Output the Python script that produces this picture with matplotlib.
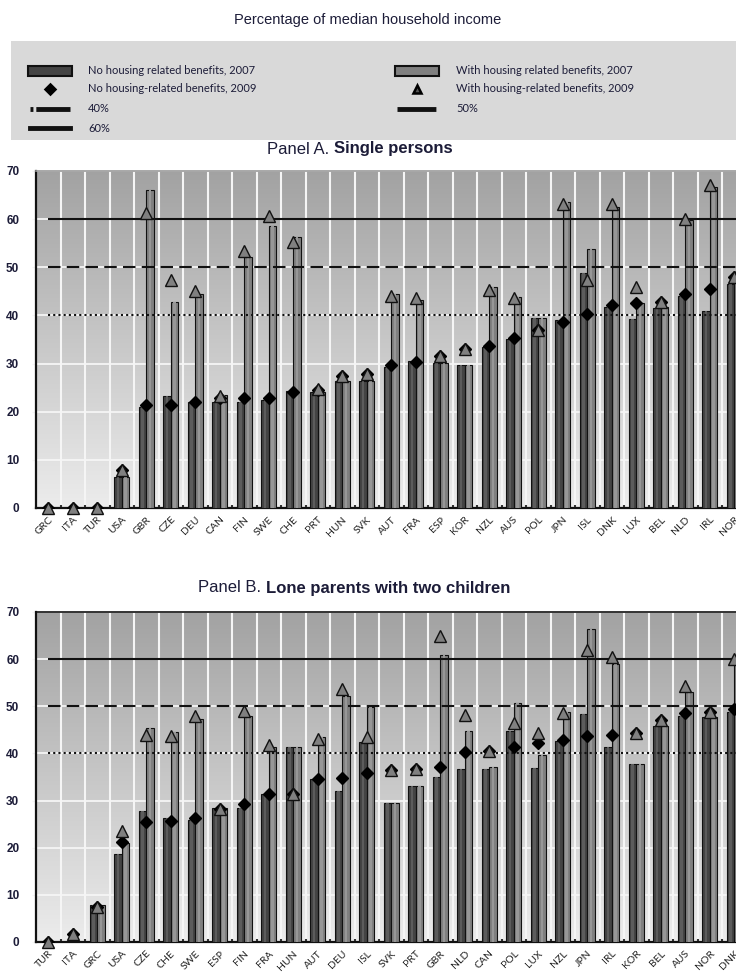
import numpy as np
import matplotlib
matplotlib.use('Agg')
import matplotlib.pyplot as plt
from matplotlib.colors import LinearSegmentedColormap
from matplotlib.patches import Rectangle
from matplotlib.lines import Line2D

# Panel A. Single persons
countries_a = ['GRC', 'ITA', 'TUR', 'USA', 'GBR', 'CZE', 'DEU', 'CAN', 'FIN', 'SWE',
               'CHE', 'PRT', 'HUN', 'SVK', 'AUT', 'FRA', 'ESP', 'KOR', 'NZL', 'AUS',
               'POL', 'JPN', 'ISL', 'DNK', 'LUX', 'BEL', 'NLD', 'IRL', 'NOR']
no_2007_a = [0, 0, 0, 6.4, 21.0, 23.3, 22.0, 22.0, 22.0, 22.4,
             24.4, 24.0, 26.4, 26.4, 29.3, 30.5, 30.1, 29.6, 33.4, 35.2,
             39.5, 39.0, 48.8, 41.8, 39.3, 41.6, 44.0, 40.9, 46.6]
with_2007_a = [0, 0, 0, 6.4, 66.0, 42.7, 44.5, 23.4, 52.1, 58.5,
               56.2, 24.0, 26.4, 26.4, 44.4, 43.3, 30.1, 29.6, 45.9, 43.8,
               39.5, 63.6, 53.9, 62.5, 42.6, 41.8, 59.8, 66.7, 47.5]
no_2009_a = [0, 0, 0, 7.8, 21.3, 21.3, 22.0, 22.8, 22.9, 22.9,
             24.0, 24.6, 27.4, 27.8, 29.8, 30.3, 31.5, 33.1, 33.7, 35.4,
             36.9, 38.6, 40.4, 42.1, 42.6, 42.8, 44.4, 45.4, 48.0]
with_2009_a = [0, 0, 0, 7.8, 61.3, 47.3, 45.1, 23.2, 53.3, 60.6,
               55.3, 24.8, 27.4, 27.8, 44.0, 43.7, 31.5, 33.1, 45.2, 43.7,
               36.9, 63.1, 47.4, 63.2, 45.9, 42.8, 60.1, 67.0, 48.0]

# Panel B. Lone parents with two children
countries_b = ['TUR', 'ITA', 'GRC', 'USA', 'CZE', 'CHE', 'SWE', 'ESP', 'FIN', 'FRA',
               'HUN', 'AUT', 'DEU', 'ISL', 'SVK', 'PRT', 'GBR', 'NLD', 'CAN', 'POL',
               'LUX', 'NZL', 'JPN', 'IRL', 'KOR', 'BEL', 'AUS', 'NOR', 'DNK']
no_2007_b = [0, 0, 7.9, 18.7, 27.7, 26.3, 25.9, 28.4, 28.4, 31.5,
             41.3, 34.5, 32.0, 42.5, 29.4, 33.1, 34.9, 36.8, 36.6, 44.8,
             37.0, 42.7, 48.3, 41.4, 37.8, 45.8, 47.9, 47.8, 48.8]
with_2007_b = [0, 0, 7.9, 21.0, 45.5, 44.6, 47.4, 28.4, 47.9, 41.4,
               41.3, 43.5, 52.2, 49.9, 29.4, 33.1, 60.8, 44.8, 37.2, 50.6,
               39.7, 48.8, 66.5, 58.9, 37.8, 45.8, 53.1, 47.8, 59.5]
no_2009_b = [0, 1.6, 7.5, 21.3, 25.5, 25.7, 26.3, 28.2, 29.2, 31.4,
             31.5, 34.5, 34.7, 35.8, 36.5, 36.8, 37.2, 40.2, 40.6, 41.4,
             42.3, 42.8, 43.7, 43.9, 44.4, 47.1, 48.6, 48.8, 49.5]
with_2009_b = [0, 1.6, 7.5, 23.6, 43.9, 43.7, 47.9, 28.2, 49.0, 41.8,
               31.5, 43.0, 53.6, 43.5, 36.5, 36.8, 64.9, 48.1, 40.6, 46.5,
               44.4, 48.5, 61.9, 60.5, 44.4, 47.1, 54.3, 48.8, 60.1]

thresholds = [40, 50, 60]
threshold_styles = {40: (0, (1, 1.5)), 50: (0, (6, 3)), 60: '-'}

DARK = '#444444'
DARK_HI = '#5c5c5c'
LIGHT = '#808080'
LIGHT_HI = '#979797'
TXT = '#1c1c38'

plt.rcParams['font.family'] = ['Liberation Sans', 'DejaVu Sans']

fig = plt.figure(figsize=(7.36, 9.75), dpi=100)
W, H = 736.0, 975.0


def fx(px):
    return px / W


def fy(py):
    return 1 - py / H


def draw_panel(ax, countries, no07, with07, no09, with09, top_color):
    n = len(countries)
    x = np.arange(n)
    w = 0.3
    grad = np.linspace(0, 1, 256).reshape(-1, 1)
    cmap = LinearSegmentedColormap.from_list('bg', ['#a2a2a2', '#ececec'])
    ax.imshow(grad, cmap=cmap, aspect='auto', extent=[0, 1, 0, 1],
              transform=ax.transAxes, zorder=0, origin='upper')
    ax.set_xlim(-0.5, n - 0.5)
    ax.set_ylim(0, 70)
    for b in x[:-1] + 0.5:
        ax.axvline(b, color='#f5f5f5', lw=1.5, zorder=1)
    for yv in range(10, 71, 10):
        ax.axhline(yv, color='#f5f5f5', lw=1.3, zorder=1)

    # 2007 bars, with a lighter middle stripe for the shaded look
    ax.bar(x - w / 2, no07, w, color=DARK, edgecolor='#111111', lw=0.8, zorder=3)
    ax.bar(x - w / 2, no07, w * 0.35, color=DARK_HI, lw=0, zorder=3.1)
    ax.bar(x + w / 2, with07, w, color=LIGHT, edgecolor='#111111', lw=0.8, zorder=3)
    ax.bar(x + w / 2, with07, w * 0.35, color=LIGHT_HI, lw=0, zorder=3.1)

    for t in thresholds:
        ax.hlines(t, 0, n - 0.5, colors='#111111', lw=1.5,
                  linestyles=threshold_styles[t], zorder=4)

    ax.plot(x, no09, 'D', color='black', markersize=6, zorder=5)
    ax.plot(x, with09, '^', color='#808080', markeredgecolor='#111111',
            markeredgewidth=1.0, markersize=9, zorder=6, clip_on=False)

    ax.set_yticks(range(0, 71, 10))
    ax.set_xticks(x)
    ax.set_xticklabels(countries, rotation=45, ha='right', va='top',
                       rotation_mode='anchor', fontsize=7.5, family=['Lato', 'DejaVu Sans'],
                       color='#222222')
    ax.tick_params(axis='x', length=0, pad=5)
    ax.set_xticks(x[:-1] + 0.5, minor=True)
    ax.tick_params(axis='x', which='minor', direction='in', length=2.5, width=1.5,
                   color='#333333')
    ax.tick_params(axis='y', length=3, width=1, color='#f5f5f5', pad=9,
                   labelsize=8.5, labelcolor=TXT)
    for lab in ax.get_yticklabels():
        lab.set_fontweight('bold')
    for s in ['left', 'bottom']:
        ax.spines[s].set_color('#111111')
        ax.spines[s].set_linewidth(1.6)
    ax.spines['right'].set_visible(False)
    ax.spines['top'].set_color(top_color)
    ax.spines['top'].set_linewidth(1.2)


ax_a = fig.add_axes([fx(36), fy(508), fx(710.5), (508 - 171) / H])
draw_panel(ax_a, countries_a, no_2007_a, with_2007_a, no_2009_a, with_2009_a, '#9a9a9a')

ax_b = fig.add_axes([fx(36), fy(942), fx(710.5), (942 - 612) / H])
draw_panel(ax_b, countries_b, no_2007_b, with_2007_b, no_2009_b, with_2009_b, '#111111')

# main title
fig.text(0.5, fy(20), 'Percentage of median household income', ha='center', va='center',
         fontsize=10.5, color=TXT)

# panel titles (plain + bold part)
fig.text(fx(334), fy(149), 'Panel A. ', ha='right', va='center', fontsize=12, color=TXT)
fig.text(fx(334), fy(149), 'Single persons', ha='left', va='center', fontsize=12,
         fontweight='bold', color=TXT)
fig.text(fx(266), fy(588), 'Panel B. ', ha='right', va='center', fontsize=12, color=TXT)
fig.text(fx(266), fy(588), 'Lone parents with two children', ha='left', va='center',
         fontsize=12, fontweight='bold', color=TXT)

# legend box
fig.patches.append(Rectangle((fx(11), fy(140)), 1 - fx(11), (140 - 41) / H,
                             transform=fig.transFigure, facecolor='#d9d9d9',
                             edgecolor='none', zorder=0))

rows = [71, 89, 109, 128]
leg_font = dict(fontsize=8, family=['Lato', 'DejaVu Sans'], color=TXT, va='center')


def leg_rect(cx, cy, color):
    fig.patches.append(Rectangle((fx(cx - 22), fy(cy + 5)), fx(44), 10 / H,
                                 transform=fig.transFigure, facecolor=color,
                                 edgecolor='#111111', lw=1.5, zorder=2))


def leg_line(cx, cy, ls, lw=3.5):
    fig.lines.append(Line2D([fx(cx - 20), fx(cx + 20)], [fy(cy), fy(cy)],
                            transform=fig.transFigure, color='#111111', lw=lw,
                            linestyle=ls))


def leg_marker(cx, cy, marker, color, size):
    fig.lines.append(Line2D([fx(cx)], [fy(cy)], transform=fig.transFigure,
                            marker=marker, color=color, markeredgecolor='black',
                            markersize=size, markeredgewidth=1.8, linestyle='none'))


lx, ltx = 50, 88
rx, rtx = 417, 456
leg_rect(lx, rows[0], DARK)
fig.text(fx(ltx), fy(rows[0]), 'No housing related benefits, 2007', **leg_font)
leg_marker(lx, rows[1], 'D', 'black', 5)
fig.text(fx(ltx), fy(rows[1]), 'No housing-related benefits, 2009', **leg_font)
leg_line(lx, rows[2], (0, (0.6, 0.6, 8, 0)))
fig.text(fx(ltx), fy(rows[2]), '40%', **leg_font)
leg_line(lx, rows[3], '-')
fig.text(fx(ltx), fy(rows[3]), '60%', **leg_font)

leg_rect(rx, rows[0], LIGHT)
fig.text(fx(rtx), fy(rows[0]), 'With housing related benefits, 2007', **leg_font)
leg_marker(rx, rows[1], '^', '#555555', 6)
fig.text(fx(rtx), fy(rows[1]), 'With housing-related benefits, 2009', **leg_font)
leg_line(rx, rows[2], (0, (8, 0.6, 0.6, 0)))
fig.text(fx(rtx), fy(rows[2]), '50%', **leg_font)

fig.savefig('out.png', dpi=100)
